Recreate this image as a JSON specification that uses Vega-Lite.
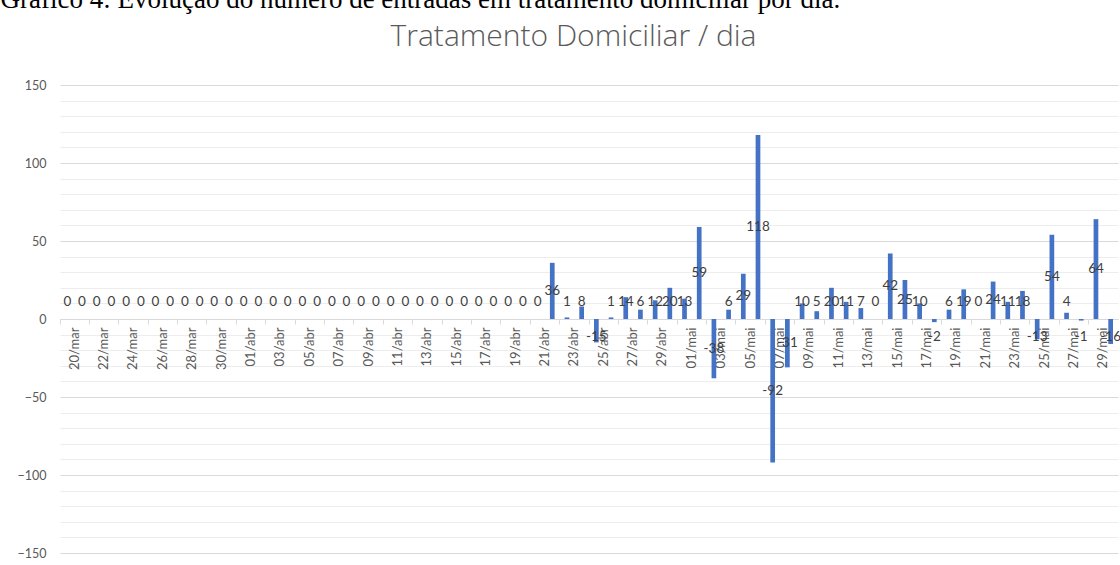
{
  "$schema": "https://vega.github.io/schema/vega-lite/v6.json",
  "width": 1058,
  "height": 468,
  "autosize": {"type": "none"},
  "padding": {"left": 60, "top": 85, "right": 2, "bottom": 12},
  "background": "white",
  "config": {"view": {"stroke": null}, "font": "Lato"},
  "data": {"values": [
    {"d": "20/mar", "v": 0}, {"d": "21/mar", "v": 0}, {"d": "22/mar", "v": 0}, {"d": "23/mar", "v": 0},
    {"d": "24/mar", "v": 0}, {"d": "25/mar", "v": 0}, {"d": "26/mar", "v": 0}, {"d": "27/mar", "v": 0},
    {"d": "28/mar", "v": 0}, {"d": "29/mar", "v": 0}, {"d": "30/mar", "v": 0}, {"d": "31/mar", "v": 0},
    {"d": "01/abr", "v": 0}, {"d": "02/abr", "v": 0}, {"d": "03/abr", "v": 0}, {"d": "04/abr", "v": 0},
    {"d": "05/abr", "v": 0}, {"d": "06/abr", "v": 0}, {"d": "07/abr", "v": 0}, {"d": "08/abr", "v": 0},
    {"d": "09/abr", "v": 0}, {"d": "10/abr", "v": 0}, {"d": "11/abr", "v": 0}, {"d": "12/abr", "v": 0},
    {"d": "13/abr", "v": 0}, {"d": "14/abr", "v": 0}, {"d": "15/abr", "v": 0}, {"d": "16/abr", "v": 0},
    {"d": "17/abr", "v": 0}, {"d": "18/abr", "v": 0}, {"d": "19/abr", "v": 0}, {"d": "20/abr", "v": 0},
    {"d": "21/abr", "v": 0}, {"d": "22/abr", "v": 36}, {"d": "23/abr", "v": 1}, {"d": "24/abr", "v": 8},
    {"d": "25/abr", "v": -15}, {"d": "26/abr", "v": 1}, {"d": "27/abr", "v": 14}, {"d": "28/abr", "v": 6},
    {"d": "29/abr", "v": 12}, {"d": "30/abr", "v": 20}, {"d": "01/mai", "v": 13}, {"d": "02/mai", "v": 59},
    {"d": "03/mai", "v": -38}, {"d": "04/mai", "v": 6}, {"d": "05/mai", "v": 29}, {"d": "06/mai", "v": 118},
    {"d": "07/mai", "v": -92}, {"d": "08/mai", "v": -31}, {"d": "09/mai", "v": 10}, {"d": "10/mai", "v": 5},
    {"d": "11/mai", "v": 20}, {"d": "12/mai", "v": 11}, {"d": "13/mai", "v": 7}, {"d": "14/mai", "v": 0},
    {"d": "15/mai", "v": 42}, {"d": "16/mai", "v": 25}, {"d": "17/mai", "v": 10}, {"d": "18/mai", "v": -2},
    {"d": "19/mai", "v": 6}, {"d": "20/mai", "v": 19}, {"d": "21/mai", "v": 0}, {"d": "22/mai", "v": 24},
    {"d": "23/mai", "v": 11}, {"d": "24/mai", "v": 18}, {"d": "25/mai", "v": -13}, {"d": "26/mai", "v": 54},
    {"d": "27/mai", "v": 4}, {"d": "28/mai", "v": -1}, {"d": "29/mai", "v": 64}, {"d": "30/mai", "v": -16}
  ]},
  "layer": [
    {
      "mark": {"type": "bar", "color": "#4472C4", "width": {"band": 0.32}},
      "encoding": {
        "x": {
          "field": "d", "type": "nominal", "sort": null,
          "scale": {"paddingInner": 0, "paddingOuter": 0},
          "axis": {
            "values": ["20/mar","22/mar","24/mar","26/mar","28/mar","30/mar","01/abr","03/abr","05/abr","07/abr","09/abr","11/abr","13/abr","15/abr","17/abr","19/abr","21/abr","23/abr","25/abr","27/abr","29/abr","01/mai","03/mai","05/mai","07/mai","09/mai","11/mai","13/mai","15/mai","17/mai","19/mai","21/mai","23/mai","25/mai","27/mai","29/mai"],
            "bandPosition": 0,
            "labelOffset": 7.35,
            "offset": -234,
            "labelAngle": -90,
            "labelFont": "Lato",
            "labelFontSize": 13,
            "labelColor": "#595959",
            "labelPadding": 3,
            "tickSize": 5,
            "tickColor": "#d9d9d9",
            "domainColor": "#d9d9d9",
            "domainWidth": 1,
            "grid": false,
            "title": "Gráfico 4: Evolução do número de entradas em tratamento domiciliar por dia.",
            "titleFont": "Liberation Serif",
            "titleFontSize": 27,
            "titleFontWeight": "normal",
            "titleColor": "#000000",
            "titleAngle": 0,
            "titleAlign": "left",
            "titleBaseline": "alphabetic",
            "titleX": -60,
            "titleY": -312
          }
        },
        "y": {
          "field": "v", "type": "quantitative",
          "scale": {"domain": [-150, 150], "nice": false},
          "axis": {
            "values": [-150,-140,-130,-120,-110,-100,-90,-80,-70,-60,-50,-40,-30,-20,-10,0,10,20,30,40,50,60,70,80,90,100,110,120,130,140,150],
            "labelExpr": "datum.value % 50 === 0 ? datum.label : ''",
            "grid": true,
            "gridColor": {"condition": {"test": "datum.value % 50 === 0", "value": "#d9d9d9"}, "value": "#ededed"},
            "gridWidth": 1,
            "ticks": false,
            "domain": false,
            "labelFont": "Lato",
            "labelFontSize": 12.5,
            "labelColor": "#595959",
            "labelPadding": 14,
            "title": "Tratamento Domiciliar / dia",
            "titleFont": "Open Sans",
            "titleFontSize": 30,
            "titleFontWeight": 300,
            "titleColor": "#595959",
            "titleAngle": 0,
            "titleAlign": "center",
            "titleBaseline": "alphabetic",
            "titleX": 513,
            "titleY": -40
          }
        }
      }
    },
    {
      "transform": [{"filter": "datum.v > 22 || datum.v < -23"}],
      "mark": {"type": "text", "font": "Lato", "fontSize": 13.5, "color": "#404040", "baseline": "middle"},
      "encoding": {
        "x": {"field": "d", "type": "nominal", "sort": null},
        "y": {"field": "v", "type": "quantitative", "scale": {"domain": [-300, 300], "nice": false}, "axis": null},
        "text": {"field": "v", "type": "nominal"}
      }
    },
    {
      "transform": [{"filter": "datum.v >= 0 && datum.v <= 22"}],
      "mark": {"type": "text", "font": "Lato", "fontSize": 13.5, "color": "#404040", "baseline": "middle", "dy": -17},
      "encoding": {
        "x": {"field": "d", "type": "nominal", "sort": null},
        "y": {"datum": 0, "type": "quantitative", "scale": {"domain": [-300, 300], "nice": false}, "axis": null},
        "text": {"field": "v", "type": "nominal"}
      }
    },
    {
      "transform": [{"filter": "datum.v < 0 && datum.v >= -23"}],
      "mark": {"type": "text", "font": "Lato", "fontSize": 13.5, "color": "#404040", "baseline": "middle", "dy": 18},
      "encoding": {
        "x": {"field": "d", "type": "nominal", "sort": null},
        "y": {"datum": 0, "type": "quantitative", "scale": {"domain": [-300, 300], "nice": false}, "axis": null},
        "text": {"field": "v", "type": "nominal"}
      }
    }
  ],
  "resolve": {"scale": {"y": "independent"}}
}
